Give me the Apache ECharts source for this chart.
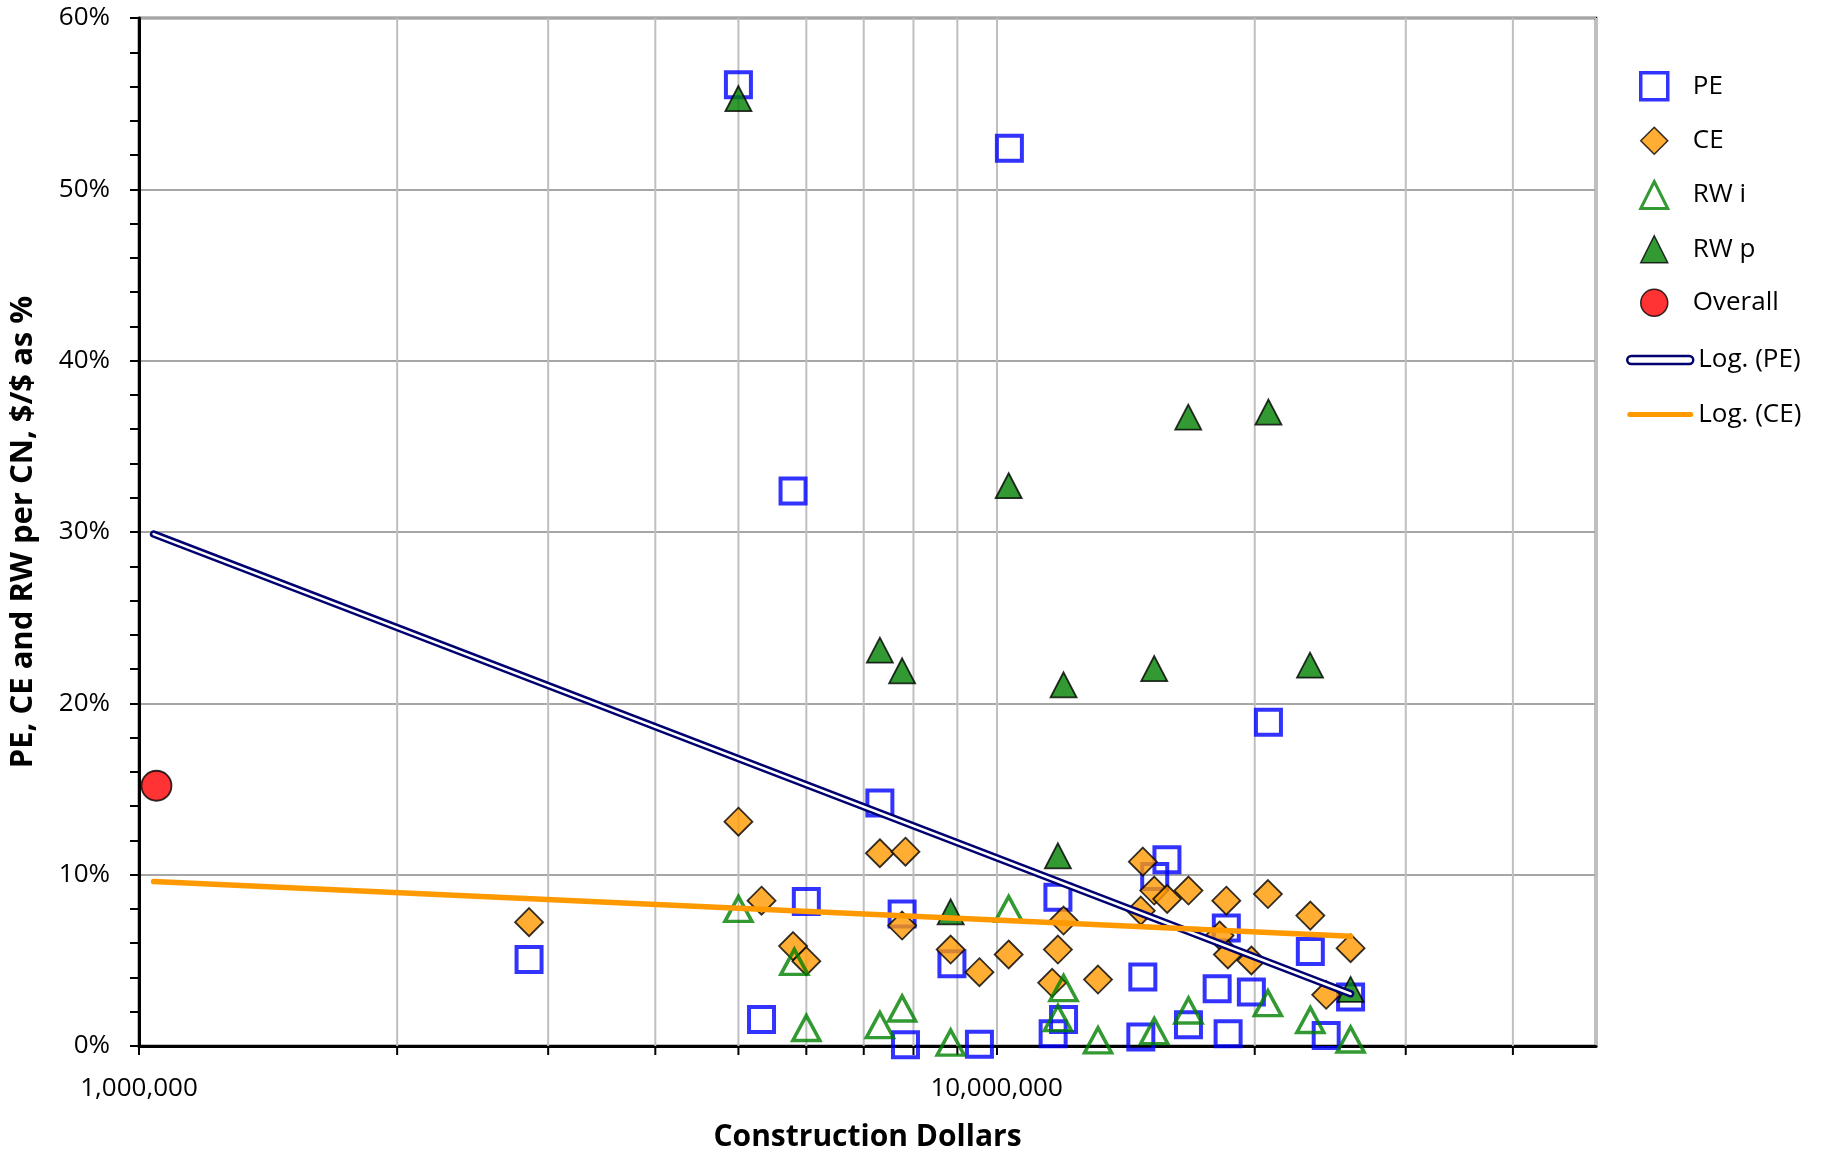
<!DOCTYPE html>
<html><head><meta charset="utf-8">
<script src="https://cdn.jsdelivr.net/npm/echarts@6/dist/echarts.min.js"></script>
<style>html,body{margin:0;padding:0;background:#fff}#chart{width:1822px;height:1157px}</style>
</head><body><div id="chart"></div>
<script>
// ---- data (x = construction dollars, y = percent) ----
const peX = [2850000, 5000000, 5320000, 5790000, 6000000, 7310000, 7760000, 7830000, 8870000, 9550000, 10350000, 11790000, 11970000, 11640000, 14810000, 14730000, 15290000, 15800000, 16740000, 18080000, 18530000, 18620000, 19820000, 20750000, 23220000, 24230000, 25870000];
const peY = [5.05, 56.1, 1.55, 32.4, 8.43, 14.18, 7.71, 0.08, 4.8, 0.1, 52.4, 8.68, 1.55, 0.72, 4.02, 0.52, 9.9, 10.87, 1.24, 3.34, 6.88, 0.72, 3.15, 18.9, 5.51, 0.62, 2.86];

const ceX = [2850000, 5000000, 5320000, 5790000, 6000000, 7310000, 7830000, 7760000, 8840000, 9550000, 10330000, 11790000, 11970000, 11610000, 13130000, 14810000, 14730000, 15270000, 15810000, 16740000, 18530000, 18200000, 18610000, 19820000, 20720000, 23220000, 24230000, 25870000];
const ceY = [7.23, 13.09, 8.48, 5.83, 4.95, 11.25, 11.34, 7.03, 5.63, 4.31, 5.34, 5.63, 7.32, 3.69, 3.88, 10.76, 7.9, 9.07, 8.58, 9.07, 8.48, 6.45, 5.34, 4.99, 8.87, 7.61, 2.99, 5.71];

const rwiX = [5000000, 5810000, 6000000, 7310000, 7760000, 8840000, 10330000, 11970000, 11790000, 13130000, 15270000, 16740000, 20720000, 23220000, 25870000];
const rwiY = [8.0, 4.91, 1.05, 1.22, 2.19, 0.2, 8.0, 3.38, 1.63, 0.33, 0.87, 2.07, 2.5, 1.52, 0.38];

const rwpX = [5000000, 7310000, 7760000, 8840000, 10330000, 11790000, 11970000, 15270000, 16730000, 20750000, 23200000, 25870000];
const rwpY = [55.3, 23.1, 21.9, 7.83, 32.7, 11.1, 21.08, 22.03, 36.7, 37.0, 22.23, 3.3];

const overallX = [1048000];
const overallY = [15.19];

const logPeX = [1040000, 25870000];
const logPeY = [29.88, 3.05];
const logCeX = [1040000, 25870000];
const logCeY = [9.6, 6.41];

// axis ticks
const xMin = 1000000, xMax = 50000000;
const xMinorGrid = [2000000, 3000000, 4000000, 5000000, 6000000, 7000000, 8000000, 9000000, 20000000, 30000000, 40000000];
const yMin = 0, yMax = 60, yStep = 10;

const zip = (xs, ys) => xs.map((x, i) => [x, ys[i]]);
const FONT = '"Open Sans", "Noto Sans", sans-serif';

const chart = echarts.init(document.getElementById('chart'), null, {renderer: 'canvas'});

const legendText = {fontFamily: FONT, fontSize: 26, color: '#000'};

const option = {
  backgroundColor: '#ffffff',
  animation: false,
  textStyle: {fontFamily: FONT, color: '#000'},
  grid: {left: 139, right: 226, top: 18, bottom: 110, show: true, borderColor: '#000', borderWidth: 2.5, backgroundColor: '#fff'},
  legend: [
    {
      orient: 'vertical', left: 1634, top: 66,
      itemWidth: 27, itemHeight: 27, itemGap: 25,
      textStyle: Object.assign({}, legendText, {padding: [0, 0, 0, 20]}),
      data: [
        {name: 'PE', itemStyle: {borderWidth: 3.5}},
        {name: 'CE', itemStyle: {borderWidth: 1.5}},
        {name: 'RW i', itemStyle: {borderWidth: 3}},
        {name: 'RW p', itemStyle: {borderWidth: 1.5}},
        {name: 'Overall', itemStyle: {borderWidth: 1.5}}
      ]
    },
    {
      orient: 'vertical', left: 1621, top: 342,
      itemWidth: 66, itemHeight: 19, itemGap: 28.5,
      textStyle: legendText,
      data: [
        {name: 'Log. (PE)', icon: 'path://M4,0 H62 A4,4 0 0 1 62,8 H4 A4,4 0 0 1 4,0 Z', itemStyle: {color: '#fff', borderColor: '#000070', borderWidth: 2.5}},
        {name: 'Log. (CE)', icon: 'path://M2.5,0 H63.5 A2.5,2.5 0 0 1 63.5,5 H2.5 A2.5,2.5 0 0 1 2.5,0 Z', itemStyle: {color: '#FF9900', borderWidth: 0}}
      ]
    }
  ],
  xAxis: {
    type: 'log', logBase: 10, min: xMin, max: xMax,
    name: 'Construction Dollars', nameLocation: 'middle', nameGap: 76,
    nameTextStyle: {fontFamily: FONT, fontSize: 30, fontWeight: 'bold', color: '#000'},
    axisLine: {show: true, onZero: false, lineStyle: {color: '#000', width: 3}},
    axisTick: {show: true, length: 9, lineStyle: {color: '#000', width: 2}},
    axisLabel: {
      margin: 30, fontFamily: FONT, fontSize: 26, color: '#000', showMaxLabel: false,
      formatter: function (v) {
        const l = Math.log10(v);
        if (Math.abs(l - Math.round(l)) < 1e-6) return Math.round(v).toLocaleString('en-US');
        return '';
      }
    },
    splitLine: {show: true, lineStyle: {color: '#BFBFBF', width: 2}}
  },
  yAxis: {
    type: 'value', min: yMin, max: yMax, interval: yStep,
    name: 'PE, CE and RW per CN, $/$ as %', nameLocation: 'middle', nameGap: 100,
    nameTextStyle: {fontFamily: FONT, fontSize: 31, fontWeight: 'bold', color: '#000'},
    axisLine: {show: true, lineStyle: {color: '#000', width: 3}},
    axisTick: {show: true, length: 9, lineStyle: {color: '#000', width: 2}},
    minorTick: {show: true, splitNumber: 5, length: 9, lineStyle: {color: '#000', width: 2}},
    axisLabel: {margin: 29, fontFamily: FONT, fontSize: 26, color: '#000', formatter: '{value}%'},
    splitLine: {show: true, lineStyle: {color: '#A6A6A6', width: 2}}
  },
  series: [
    {
      name: 'minorGrid', type: 'custom', silent: true, z: 1, clip: false,
      data: xMinorGrid.map(x => [x, yMin]),
      encode: {x: 0, y: 1},
      renderItem: function (params, api) {
        const x = api.value(0);
        const top = api.coord([x, yMax]);
        const bot = api.coord([x, yMin]);
        return {type: 'group', children: [
          {type: 'line', shape: {x1: top[0], y1: top[1], x2: bot[0], y2: bot[1]}, style: {stroke: '#BFBFBF', lineWidth: 2}},
          {type: 'line', shape: {x1: bot[0], y1: bot[1], x2: bot[0], y2: bot[1] + 9}, style: {stroke: '#000', lineWidth: 2}}
        ]};
      }
    },
    {
      name: 'PE', type: 'scatter', z: 3, symbol: 'rect', symbolSize: 25,
      itemStyle: {color: 'rgba(255,255,255,0)', borderColor: '#0000FF', borderWidth: 4},
      data: zip(peX, peY)
    },
    {
      name: 'CE', type: 'scatter', z: 4, symbol: 'diamond', symbolSize: 28,
      itemStyle: {color: '#FF9900', borderColor: '#000', borderWidth: 1.8},
      data: zip(ceX, ceY)
    },
    {
      name: 'RW i', type: 'scatter', z: 5, symbol: 'triangle', symbolSize: [27, 25],
      itemStyle: {color: 'rgba(255,255,255,0)', borderColor: '#008000', borderWidth: 3.5},
      data: zip(rwiX, rwiY)
    },
    {
      name: 'RW p', type: 'scatter', z: 6, symbol: 'triangle', symbolSize: [26, 25],
      itemStyle: {color: '#008000', borderColor: '#000', borderWidth: 1.8},
      data: zip(rwpX, rwpY)
    },
    {
      name: 'Overall', type: 'scatter', z: 7, symbol: 'circle', symbolSize: 30,
      itemStyle: {color: '#FF0000', borderColor: '#000', borderWidth: 1.8},
      data: zip(overallX, overallY)
    },
    {
      name: 'Log. (PE)', type: 'line', z: 8, symbol: 'none', silent: true,
      lineStyle: {color: '#000070', width: 7.5, cap: 'round'},
      itemStyle: {color: '#000070'},
      data: zip(logPeX, logPeY)
    },
    {
      name: 'Log. (PE) inner', type: 'line', z: 9, symbol: 'none', silent: true,
      lineStyle: {color: '#ffffff', width: 2.5, cap: 'round'},
      itemStyle: {color: '#ffffff'},
      data: zip(logPeX, logPeY)
    },
    {
      name: 'Log. (CE)', type: 'line', z: 10, symbol: 'none', silent: true,
      lineStyle: {color: '#FF9900', width: 5.5, cap: 'round'},
      itemStyle: {color: '#FF9900'},
      data: zip(logCeX, logCeY)
    }
  ]
};
chart.setOption(option);
</script>
</body></html>
